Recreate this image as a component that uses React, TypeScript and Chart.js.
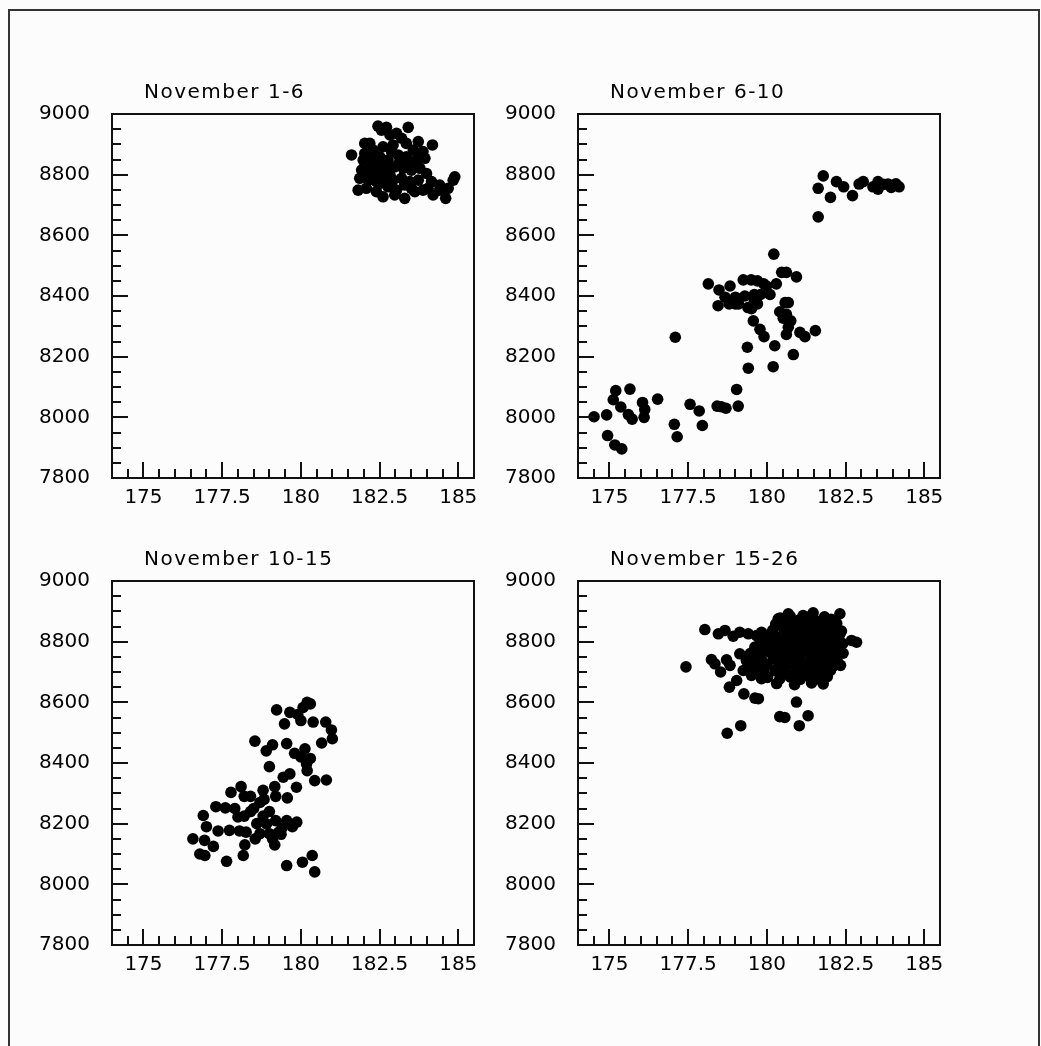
import React, { useEffect, useRef } from "react";
import { Chart, registerables } from "chart.js";

Chart.register(...registerables);

// ---- axis / labels ----
const xTickValues = [175, 177.5, 180, 182.5, 185];
const yTickValues = [7800, 8000, 8200, 8400, 8600, 8800, 9000];
const xMin = 174;
const xMax = 185.5;
const yMin = 7800;
const yMax = 9000;
const xMinorStep = 0.5;
const yMinorStep = 50;
const panelTitles = ["November 1-6", "November 6-10", "November 10-15", "November 15-26"];

// ---- data: [x, y] ----
const nov1to6: [number, number][] = [
  [181.61, 8865], [182.03, 8903], [182.19, 8903], [182.45, 8960], [182.56, 8947], [182.72, 8956],
  [183.41, 8956], [182.83, 8931], [183.04, 8936], [183.2, 8920], [183.73, 8909], [184.18, 8898],
  [182.3, 8881], [182.61, 8892], [182.93, 8898], [183.35, 8903], [183.57, 8881], [183.88, 8876],
  [181.98, 8848], [182.24, 8854], [182.51, 8859], [182.77, 8848], [183.09, 8865], [183.35, 8859],
  [183.67, 8848], [183.94, 8854], [181.93, 8815], [182.19, 8821], [182.46, 8810], [182.72, 8821],
  [182.98, 8826], [183.25, 8821], [183.51, 8815], [183.78, 8821], [183.99, 8804], [181.87, 8788],
  [182.14, 8782], [182.4, 8777], [182.67, 8793], [182.93, 8782], [183.2, 8788], [183.46, 8777],
  [183.73, 8782], [184.15, 8777], [184.41, 8766], [184.84, 8782], [184.89, 8793], [181.82, 8749],
  [182.08, 8755], [182.4, 8744], [182.77, 8760], [183.04, 8749], [183.3, 8722], [183.62, 8744],
  [183.88, 8749], [184.2, 8733], [184.41, 8749], [184.6, 8722], [184.68, 8755], [182.03, 8870],
  [182.35, 8837], [182.56, 8832], [182.88, 8876], [183.14, 8843], [183.46, 8837], [183.78, 8870],
  [182.83, 8799], [182.51, 8771], [183.3, 8766], [184.04, 8755], [182.19, 8799], [182.61, 8727],
  [182.98, 8733], [183.51, 8755],
];

const nov6to10: [number, number][] = [
  [181.79, 8796], [181.63, 8755], [182.02, 8725], [181.63, 8661], [182.21, 8777], [182.44, 8760],
  [182.72, 8731], [182.93, 8769], [183.06, 8777], [183.37, 8760], [183.53, 8777], [183.53, 8752],
  [183.7, 8768], [183.85, 8769], [184.0, 8765], [184.2, 8760], [183.95, 8758], [184.1, 8770],
  [180.22, 8538], [180.47, 8478], [180.62, 8478], [180.94, 8463], [178.14, 8440], [178.48, 8420],
  [178.83, 8433], [179.25, 8453], [179.5, 8453], [179.7, 8450], [179.9, 8440], [179.99, 8433],
  [180.3, 8440], [178.67, 8396], [179.0, 8396], [179.3, 8400], [179.6, 8405], [179.8, 8405],
  [180.1, 8405], [178.45, 8368], [178.8, 8374], [179.0, 8374], [179.4, 8362], [179.6, 8382],
  [180.68, 8378], [180.58, 8378], [180.41, 8348], [180.62, 8340], [180.52, 8327], [180.76, 8318],
  [179.78, 8290], [180.68, 8297], [180.62, 8273], [179.91, 8266], [181.05, 8280], [181.21, 8266],
  [181.54, 8286], [180.25, 8236], [180.84, 8207], [180.2, 8167], [179.57, 8318], [179.38, 8231],
  [179.41, 8162], [179.51, 8358], [179.1, 8374], [179.7, 8374],
  [177.09, 8264], [179.04, 8092], [179.09, 8037], [178.42, 8037], [178.55, 8035], [178.7, 8030],
  [177.56, 8043], [177.85, 8021], [177.95, 7973], [177.06, 7977], [177.15, 7936], [176.53, 8060],
  [176.05, 8049], [176.12, 8026], [176.1, 8000], [175.65, 8093], [175.2, 8088], [175.12, 8058],
  [175.36, 8034], [175.6, 8009], [175.72, 7994], [174.91, 8008], [174.51, 8002], [174.94, 7940],
  [175.17, 7909], [175.39, 7896],
];

const nov10to15: [number, number][] = [
  [179.23, 8575], [179.65, 8567], [179.9, 8560], [180.07, 8583], [180.2, 8600], [180.3, 8595],
  [179.48, 8529], [180.0, 8540], [180.39, 8535], [180.79, 8535], [180.97, 8509], [181.0, 8480],
  [180.66, 8466], [178.54, 8472], [178.9, 8440], [179.1, 8460], [179.55, 8464], [179.8, 8432],
  [180.13, 8447], [179.0, 8388], [179.44, 8353], [179.65, 8364], [179.86, 8320], [180.18, 8397],
  [180.2, 8375], [180.44, 8342], [180.81, 8344], [179.17, 8322], [179.57, 8285], [178.1, 8322],
  [177.78, 8303], [177.3, 8256], [177.6, 8252], [178.2, 8290], [178.4, 8290], [178.8, 8310],
  [178.83, 8280], [179.2, 8290], [176.9, 8227], [178.0, 8222], [178.2, 8225], [178.5, 8250],
  [178.8, 8225], [178.91, 8199], [179.2, 8210], [179.55, 8210], [179.87, 8205], [177.0, 8190],
  [177.37, 8176], [177.73, 8178], [178.05, 8176], [178.26, 8172], [178.7, 8167], [179.0, 8167],
  [179.3, 8172], [179.73, 8190], [176.57, 8150], [176.94, 8145], [177.22, 8125], [178.22, 8130],
  [179.17, 8130], [179.37, 8165], [176.79, 8100], [176.95, 8095], [177.64, 8076], [178.17, 8095],
  [179.55, 8062], [180.05, 8073], [180.36, 8095], [180.44, 8041], [178.6, 8200], [178.4, 8240],
  [179.0, 8240], [178.7, 8270], [179.4, 8185], [178.55, 8150], [179.1, 8150], [177.9, 8250],
  [180.0, 8420], [180.3, 8415],
];

const nov15to26: [number, number][] = [
  [177.43, 8717], [178.03, 8840], [178.46, 8826], [178.67, 8837], [178.93, 8818], [179.14, 8831],
  [179.41, 8826], [179.67, 8820], [179.83, 8831], [180.1, 8809], [179.94, 8798],
  [178.24, 8741], [178.35, 8727], [178.53, 8700], [178.72, 8740], [178.83, 8722], [179.04, 8672],
  [178.81, 8650], [179.27, 8628], [179.62, 8614], [179.73, 8612], [179.14, 8760], [179.35, 8738],
  [179.25, 8705], [179.51, 8689], [179.67, 8722], [179.83, 8678],
  [180.36, 8875], [180.68, 8892], [181.15, 8886], [181.47, 8895], [181.74, 8870], [182.32, 8892],
  [182.69, 8804], [182.85, 8798], [181.79, 8661], [180.94, 8601],
  [178.74, 8498], [179.17, 8523], [180.41, 8553], [180.57, 8550], [181.03, 8523], [181.31, 8556],
  [180.42, 8878], [180.74, 8884], [181.02, 8871], [181.3, 8880], [181.55, 8868], [181.83, 8882], [182.04, 8874],
  [180.28, 8858], [180.61, 8863], [180.88, 8852], [181.18, 8861], [181.44, 8855], [181.71, 8864], [181.96, 8851], [182.22, 8860],
  [180.19, 8838], [180.52, 8845], [180.79, 8834], [181.08, 8842], [181.36, 8836], [181.62, 8846], [181.86, 8833], [182.12, 8841], [182.37, 8835],
  [180.02, 8822], [180.34, 8815], [180.66, 8825], [180.97, 8818], [181.24, 8826], [181.53, 8814], [181.79, 8823], [182.06, 8817], [182.31, 8824],
  [179.81, 8801], [180.12, 8796], [180.44, 8805], [180.76, 8798], [181.04, 8806], [181.31, 8795], [181.61, 8803], [181.91, 8797], [182.16, 8806], [182.41, 8794],
  [179.62, 8782], [179.96, 8776], [180.24, 8785], [180.56, 8778], [180.86, 8784], [181.14, 8775], [181.46, 8783], [181.72, 8777], [182.01, 8786], [182.26, 8779],
  [179.47, 8761], [179.79, 8756], [180.11, 8764], [180.39, 8757], [180.71, 8762], [181.01, 8755], [181.29, 8765], [181.58, 8758], [181.86, 8763], [182.11, 8754], [182.42, 8762],
  [179.52, 8741], [179.86, 8736], [180.21, 8744], [180.49, 8737], [180.81, 8743], [181.09, 8735], [181.41, 8745], [181.69, 8738], [181.96, 8742], [182.24, 8734],
  [179.41, 8722], [179.72, 8717], [180.01, 8724], [180.36, 8716], [180.64, 8723], [180.96, 8715], [181.26, 8721], [181.54, 8714], [181.81, 8725], [182.09, 8718], [182.34, 8722],
  [179.58, 8701], [179.91, 8697], [180.26, 8704], [180.59, 8696], [180.91, 8702], [181.21, 8695], [181.49, 8703], [181.76, 8697], [182.02, 8705],
  [180.02, 8682], [180.41, 8677], [180.74, 8684], [181.06, 8676], [181.36, 8683], [181.61, 8678], [181.92, 8685],
  [180.31, 8662], [180.88, 8658], [181.42, 8664],
];

const panelData = [nov1to6, nov6to10, nov10to15, nov15to26];

const FONT = "'DejaVu Sans', sans-serif";
const CANVAS_W = 480;
const CANVAS_H = 464;
const Y_AXIS_W = 110;
const X_AXIS_H = 50;
const PAD_TOP = 50;
const PAD_RIGHT = 8;

const framePlugin = {
  id: "frameTicks",
  afterDraw(chart: any) {
    const { ctx, chartArea } = chart;
    const xs = chart.scales.x;
    const ys = chart.scales.y;
    ctx.save();
    ctx.strokeStyle = "#111";
    ctx.lineWidth = 2;
    ctx.strokeRect(chartArea.left, chartArea.top, chartArea.right - chartArea.left, chartArea.bottom - chartArea.top);
    ctx.beginPath();
    for (let v = xMin + xMinorStep; v < xMax + 1e-9; v += xMinorStep) {
      const px = Math.round(xs.getPixelForValue(v));
      const major = xTickValues.some((t) => Math.abs(t - v) < 1e-6);
      const len = major ? 16 : 9;
      ctx.moveTo(px, chartArea.bottom);
      ctx.lineTo(px, chartArea.bottom - len);
    }
    for (let v = yMin + yMinorStep; v < yMax - 1e-9; v += yMinorStep) {
      const py = Math.round(ys.getPixelForValue(v));
      const major = yTickValues.some((t) => Math.abs(t - v) < 1e-6);
      const len = major ? 16 : 9;
      ctx.moveTo(chartArea.left, py);
      ctx.lineTo(chartArea.left + len, py);
    }
    ctx.stroke();
    const title = chart.options.plugins.panelTitle?.text;
    if (title) {
      ctx.fillStyle = "#000";
      ctx.font = `20px ${FONT}`;
      ctx.textBaseline = "alphabetic";
      ctx.textAlign = "left";
      try {
        (ctx as any).letterSpacing = "1.5px";
      } catch (e) {
        /* ignore */
      }
      ctx.fillText(title, chartArea.left + 32, chartArea.top - 16);
    }
    ctx.restore();
  },
};

function Panel({ title, points, left, top }: { title: string; points: [number, number][]; left: number; top: number }) {
  const ref = useRef<HTMLCanvasElement>(null);
  useEffect(() => {
    if (!ref.current) return;
    const chart = new Chart(ref.current, {
      type: "scatter",
      data: {
        datasets: [
          {
            data: points.map(([x, y]) => ({ x, y })),
            backgroundColor: "#000",
            borderColor: "#000",
            borderWidth: 0,
            pointRadius: 5.8,
            pointHoverRadius: 5.8,
          },
        ],
      },
      options: {
        responsive: false,
        animation: false,
        devicePixelRatio: 1,
        events: [],
        layout: { padding: { left: 0, right: PAD_RIGHT, top: PAD_TOP, bottom: 0 } },
        plugins: {
          legend: { display: false },
          tooltip: { enabled: false },
          title: { display: false },
          panelTitle: { text: title },
        } as any,
        scales: {
          x: {
            type: "linear",
            min: xMin,
            max: xMax,
            afterFit: (s: any) => {
              s.height = X_AXIS_H;
            },
            afterBuildTicks: (s: any) => {
              s.ticks = xTickValues.map((v) => ({ value: v }));
            },
            grid: { display: false },
            border: { display: false },
            ticks: {
              autoSkip: false,
              maxRotation: 0,
              minRotation: 0,
              padding: 0,
              color: "#000",
              font: { family: FONT, size: 20 },
              callback: (v: any) => String(v),
            },
          },
          y: {
            type: "linear",
            min: yMin,
            max: yMax,
            afterFit: (s: any) => {
              s.width = Y_AXIS_W;
            },
            afterBuildTicks: (s: any) => {
              s.ticks = yTickValues.map((v) => ({ value: v }));
            },
            grid: { display: false },
            border: { display: false },
            ticks: {
              autoSkip: false,
              padding: 14,
              color: "#000",
              font: { family: FONT, size: 20 },
              callback: (v: any) => String(v),
            },
          },
        },
      },
      plugins: [framePlugin],
    } as any);
    return () => chart.destroy();
  }, [title, points]);
  return (
    <canvas
      ref={ref}
      width={CANVAS_W}
      height={CANVAS_H}
      style={{ position: "absolute", left, top, width: CANVAS_W, height: CANVAS_H }}
    />
  );
}

const plotLefts = [112, 578, 112, 578];
const plotTops = [114, 114, 581, 581];

export default function App() {
  return (
    <div
      style={{
        position: "absolute",
        left: 0,
        top: 0,
        width: 1041,
        height: 1046,
        background: "#fcfcfc",
        overflow: "hidden",
      }}
    >
      <div
        style={{
          position: "absolute",
          left: 8,
          top: 9,
          width: 1032,
          height: 1060,
          border: "2px solid #333",
          boxSizing: "border-box",
        }}
      />
      {panelData.map((pts, i) => (
        <Panel
          key={i}
          title={panelTitles[i]}
          points={pts}
          left={plotLefts[i] - Y_AXIS_W}
          top={plotTops[i] - PAD_TOP}
        />
      ))}
    </div>
  );
}
